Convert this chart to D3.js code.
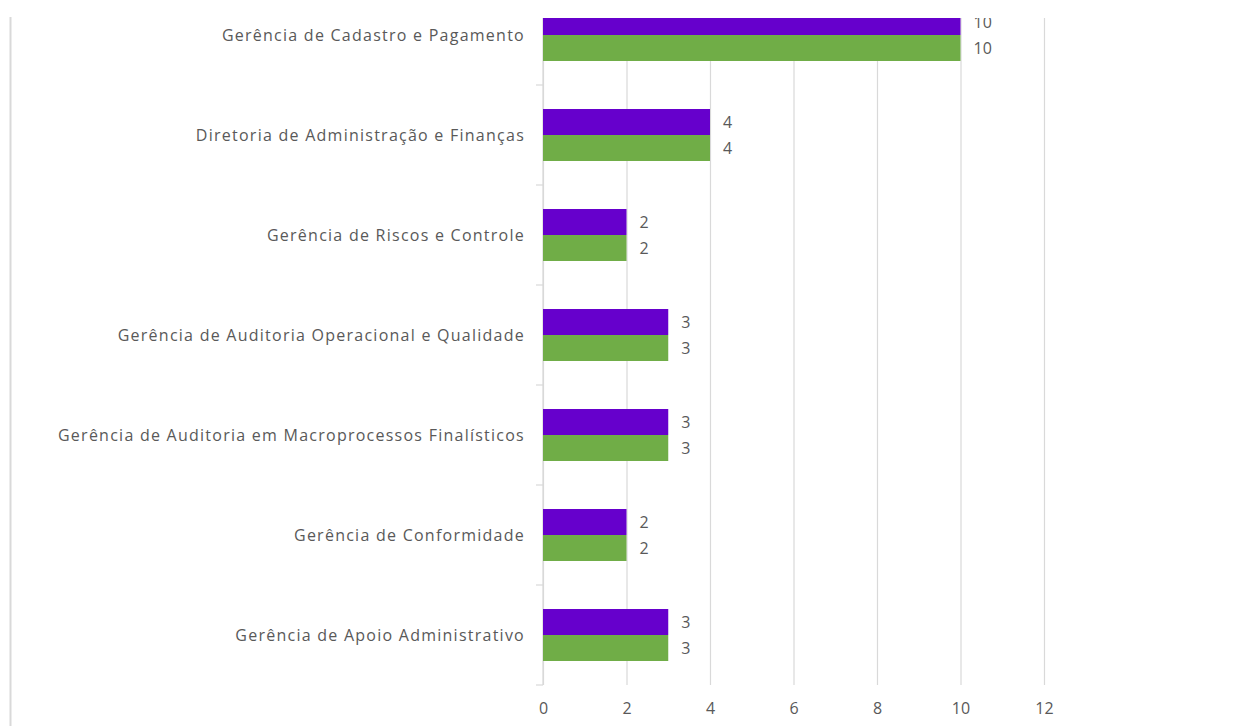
<!DOCTYPE html>
<html>
<head>
<meta charset="utf-8">
<script src="https://cdn.jsdelivr.net/npm/d3@7"></script>
<style>
  body { margin: 0; background: #fff; }
  text { font-family: "Open Sans", sans-serif; fill: #595959; }
</style>
</head>
<body>
<svg width="1257" height="726"></svg>
<script>
const svg = d3.select('svg');

// data
const categories = [
  'Gerência de Cadastro e Pagamento',
  'Diretoria de Administração e Finanças',
  'Gerência de Riscos e Controle',
  'Gerência de Auditoria Operacional e Qualidade',
  'Gerência de Auditoria em Macroprocessos Finalísticos',
  'Gerência de Conformidade',
  'Gerência de Apoio Administrativo'
];
const seriesNames = ['A', 'B'];
const seriesA = [10, 4, 2, 3, 3, 2, 3];
const seriesB = [10, 4, 2, 3, 3, 2, 3];
const xTicks = [0, 2, 4, 6, 8, 10, 12];

const colors = ['#6600CC', '#70AD47'];

const left = 543, right = 1044;
const clipTop = 18, bottom = 685;

const xScale = d3.scaleLinear().domain([0, 12]).range([left, right]);
const yScale = d3.scaleBand().domain(categories).range([-15, bottom]).padding(0);
const inner = d3.scaleBand().domain(seriesNames).range([24, 76]);

// outer frame line on the left
svg.append('line')
  .attr('x1', 10.5).attr('x2', 10.5)
  .attr('y1', 17).attr('y2', 726)
  .attr('stroke', '#d9d9d9').attr('stroke-width', 2);

svg.append('clipPath').attr('id', 'clip')
  .append('rect')
  .attr('x', 0).attr('y', clipTop)
  .attr('width', 1257).attr('height', 726 - clipTop);

const g = svg.append('g').attr('clip-path', 'url(#clip)');

// gridlines + tick labels (behind the bars)
const xAxis = d3.axisBottom(xScale)
  .tickValues(xTicks)
  .tickSize(-(bottom - clipTop))
  .tickPadding(18);

const xg = g.append('g')
  .attr('transform', `translate(0,${bottom})`)
  .call(xAxis);
xg.select('.domain').remove();
xg.selectAll('.tick line').attr('stroke', '#d9d9d9').attr('stroke-width', 1.2);
xg.selectAll('.tick text')
  .attr('font-size', 16)
  .attr('fill', '#595959')
  .style('font-family', '"Open Sans", sans-serif');

// y axis line and tick marks at category boundaries
g.append('line')
  .attr('x1', left).attr('x2', left)
  .attr('y1', clipTop).attr('y2', bottom)
  .attr('stroke', '#d9d9d9').attr('stroke-width', 1.2);

g.selectAll('.ytick').data(categories)
  .enter().append('line')
    .attr('x1', left - 7).attr('x2', left)
    .attr('y1', d => yScale(d) + yScale.step())
    .attr('y2', d => yScale(d) + yScale.step())
    .attr('stroke', '#d9d9d9').attr('stroke-width', 1.2);

// bars
const rows = categories.map((c, i) => ({
  category: c,
  values: [
    { s: 'A', v: seriesA[i] },
    { s: 'B', v: seriesB[i] }
  ]
}));

const groups = g.selectAll('.row').data(rows)
  .enter().append('g')
    .attr('transform', d => `translate(0,${yScale(d.category)})`);

groups.selectAll('rect').data(d => d.values)
  .enter().append('rect')
    .attr('x', xScale(0))
    .attr('y', d => inner(d.s))
    .attr('width', d => xScale(d.v) - xScale(0))
    .attr('height', inner.bandwidth())
    .attr('fill', (d, i) => colors[i]);

groups.selectAll('.val').data(d => d.values)
  .enter().append('text')
    .attr('x', d => xScale(d.v) + 13)
    .attr('y', d => inner(d.s) + inner.bandwidth() / 2)
    .attr('dy', '0.35em')
    .attr('font-size', 16)
    .text(d => d.v);

// category labels
svg.selectAll('.cat').data(categories)
  .enter().append('text')
    .attr('x', 525)
    .attr('y', d => yScale(d) + yScale.step() / 2)
    .attr('dy', '0.35em')
    .attr('text-anchor', 'end')
    .attr('font-size', 16)
    .attr('letter-spacing', 1.25)
    .text(d => d);
</script>
</body>
</html>
